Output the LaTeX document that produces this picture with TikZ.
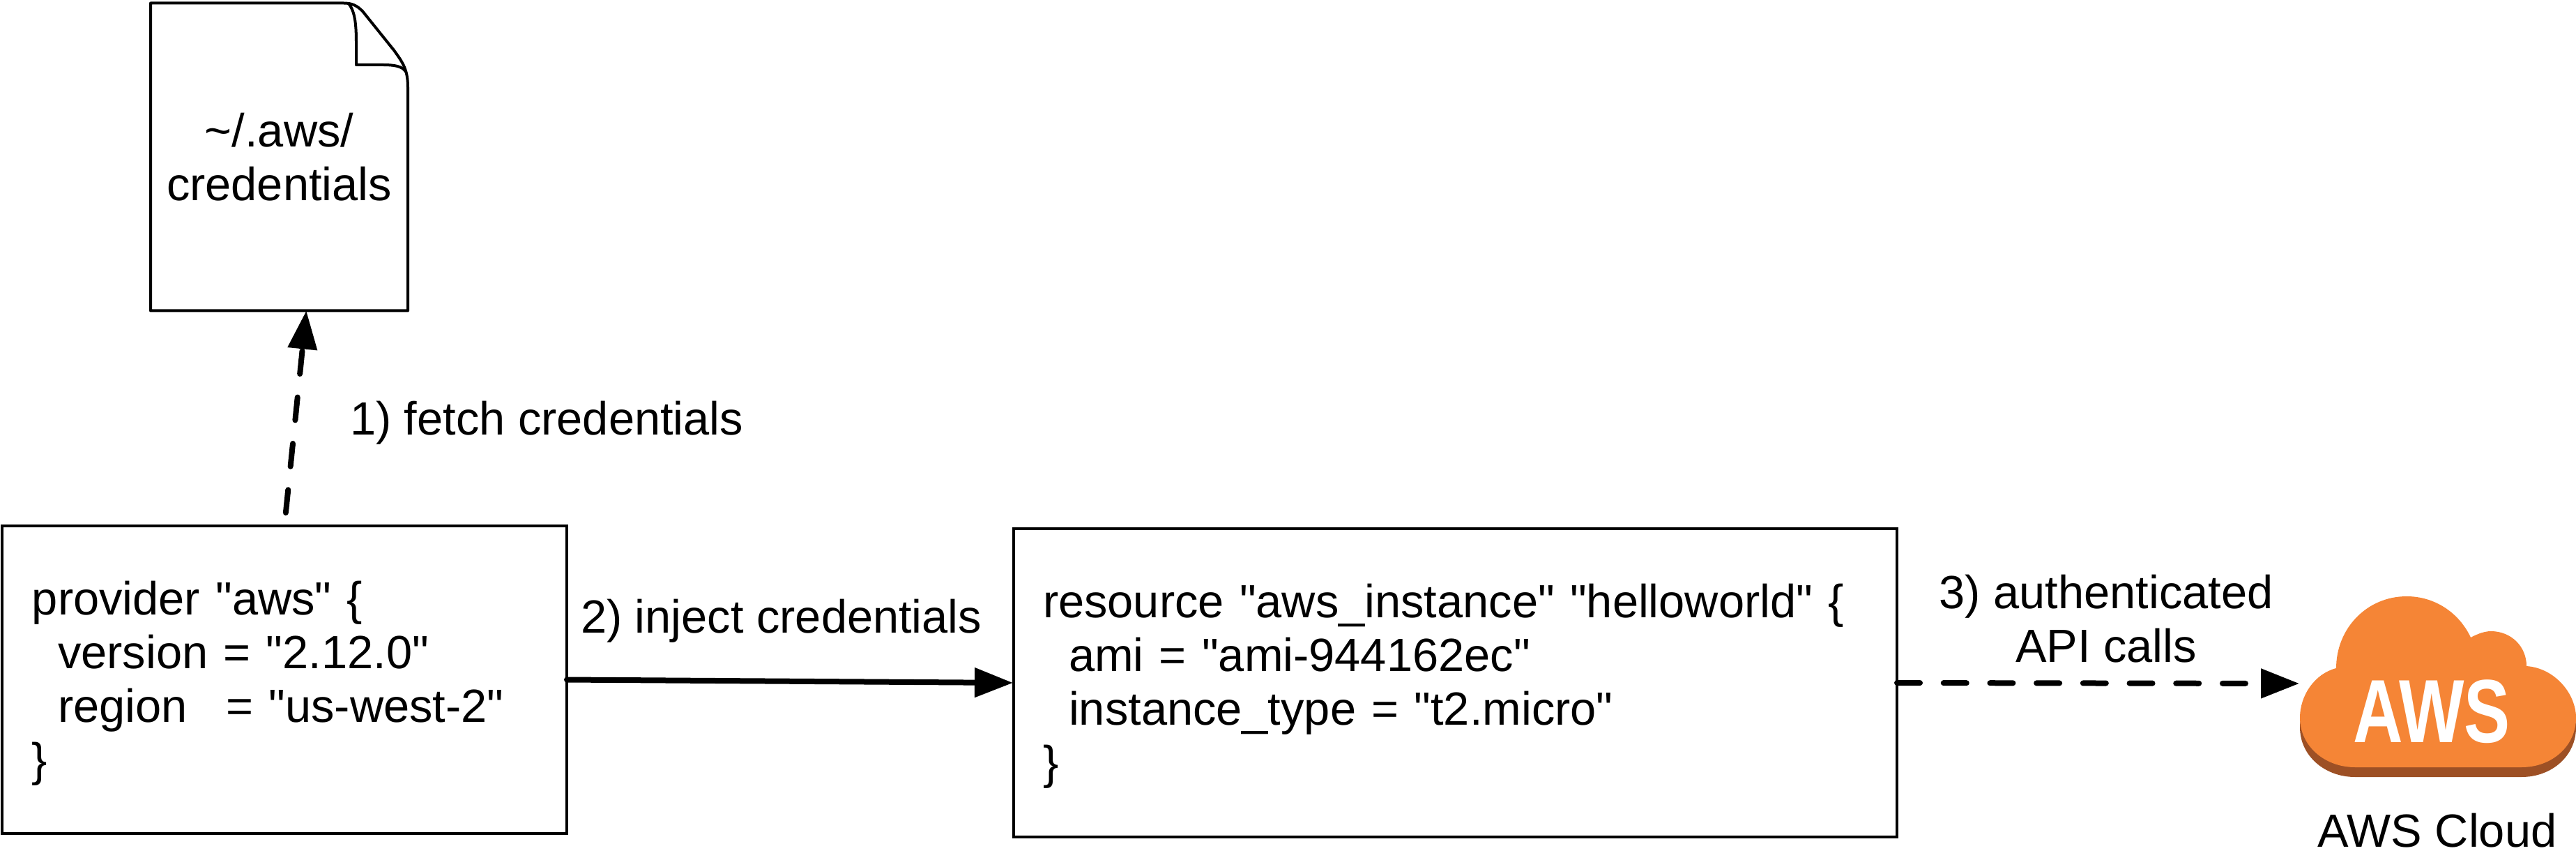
\documentclass[tikz,border=0pt]{standalone}
\usepackage{fontspec}
\setmainfont[Ligatures=TeXOff]{Liberation Sans}
\usetikzlibrary{arrows.meta}
\definecolor{cloudorange}{HTML}{F58536}
\definecolor{clouddark}{HTML}{9D5025}
\newcommand{\codegap}[1]{\hspace*{#1}}
\newcommand{\codetop}{\rule{0pt}{.58cm}}
\newcommand{\createcloud}[2]{\fill[#1,shift={(0,#2)}] (33.51,9.58) .. controls (33.51,9.01) and (33.95,8.55) .. (34.52,8.55) .. controls (34.92,8.55) and (35.27,8.78) .. (35.44,9.14) .. controls (35.55,9.08) and (35.65,9.05) .. (35.73,9.05) .. controls (36.02,9.05) and (36.24,9.27) .. (36.24,9.55) .. controls (36.65,9.58) and (36.95,9.95) .. (36.95,10.29) .. controls (36.95,10.7) and (36.6,11.0) .. (36.17,11.0) -- (33.78,11.0) .. controls (33.35,11.0) and (32.99,10.7) .. (32.99,10.29) .. controls (32.99,9.97) and (33.2,9.66) .. (33.51,9.58) -- cycle;}
\tikzset{
    textsize/.style={font=\fontsize{19}{21.9}\selectfont},
    codebox/.style={draw,line width=.04cm,textsize,align=left,outer sep=0pt,inner ysep=0pt},
    steplabel/.style={textsize,inner sep=0pt,outer sep=0pt},
    fileline/.style={line width=.04cm,line join=round},
    callarrow/.style={line width=.08cm,line cap=round,-{Triangle[length=.55cm,width=.41cm]}},
    dasharrow/.style={callarrow,dash pattern=on .33cm off .337cm}
}

\begin{document}
\begin{tikzpicture}[y=-1cm]
    \useasboundingbox (0,0) rectangle (36.95,12.33);
    \node[steplabel,align=center,minimum width=3.69cm,minimum height=4.41cm] (credfile) at (4.005,2.25) {\textasciitilde/.aws/\\credentials};
    \draw[fileline] (credfile.north west) -- (4.93,.045) .. controls (5.05,.045) and (5.12,.08) .. (5.2,.16) -- (5.65,.72) .. controls (5.78,.9) and (5.85,1.0) .. (5.85,1.25) -- (credfile.south east) -- (credfile.south west) -- cycle;
    \draw[fileline] (5.0,.05) .. controls (5.08,.15) and (5.11,.3) .. (5.11,.6) -- (5.11,.93) -- (5.5,.93) .. controls (5.65,.93) and (5.78,.95) .. (5.82,1.03);
    \node[codebox,text width=7.24cm,inner xsep=.43cm,minimum height=4.41cm] (provider) at (4.08,9.745) {\codetop provider "aws" \{\\\codegap{.556em}version = "2.12.0"\\\codegap{.556em}region\codegap{.834em}= "us-west-2"\\\}};
    \node[codebox,text width=11.83cm,inner xsep=.42cm,minimum height=4.42cm] (resource) at (20.875,9.79) {\codetop resource "aws\_instance" "helloworld" \{\\\codegap{.556em}ami = "ami-944162ec"\\\codegap{.556em}instance\_type = "t2.micro"\\\}};
    \createcloud{clouddark}{.14}
    \createcloud{cloudorange}{0}
    \node[white,font=\fontsize{36.6}{40}\selectfont\bfseries,inner sep=0pt,anchor=base,xscale=.77,transform shape] (awslogo) at (34.88,10.64) {AWS};
    \node[steplabel,anchor=base] (awsname) at (34.96,12.14) {AWS Cloud};
    \coordinate (cloudedge) at (32.98,9.80);
    \node[steplabel,anchor=base west] (fetchlabel) at (5.02,6.23) {1) fetch credentials};
    \node[steplabel,anchor=base west] (injectlabel) at (8.33,9.07) {2) inject credentials};
    \node[steplabel,align=center] (calllabel) at (30.21,8.87) {3) authenticated\\API calls};
    \draw[dasharrow,shorten <=.19cm] (provider.north) -- (credfile.-80);
    \draw[callarrow,shorten >=.01cm] (provider.east) -- (resource.west);
    \draw[dasharrow] (resource.east) -- (cloudedge);
\end{tikzpicture}
\end{document}
